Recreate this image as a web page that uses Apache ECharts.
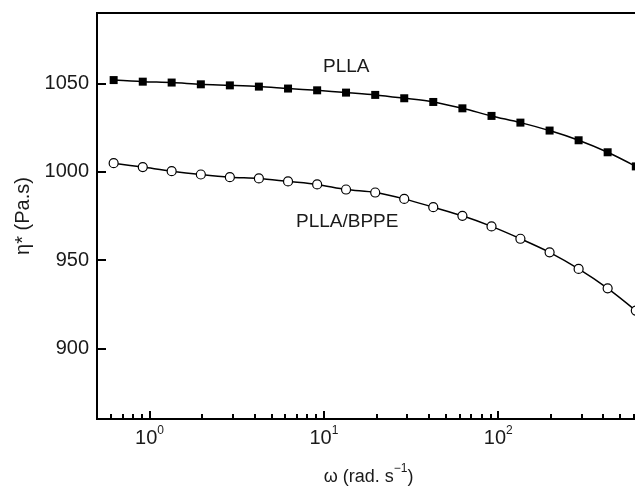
<!DOCTYPE html>
<html>
<head>
<meta charset="utf-8">
<script src="https://cdn.jsdelivr.net/npm/echarts@6/dist/echarts.min.js"></script>
<style>html,body{margin:0;padding:0;background:#fff;}#c{width:635px;height:486px;}</style>
</head>
<body>
<div id="c"></div>
<script>
const omega = [0.623, 0.915, 1.34, 1.97, 2.89, 4.24, 6.23, 9.15, 13.4, 19.7, 28.9, 42.4, 62.3, 91.5, 134, 197, 289, 424, 615];
const plla = [1052.0, 1051.1, 1050.6, 1049.6, 1049.0, 1048.3, 1047.2, 1046.2, 1044.9, 1043.6, 1041.7, 1039.6, 1036.0, 1031.7, 1027.9, 1023.4, 1017.9, 1011.1, 1003.1];
const pllaBppe = [1004.9, 1002.7, 1000.4, 998.5, 997.0, 996.3, 994.6, 992.9, 990.0, 988.3, 984.7, 980.0, 975.1, 969.1, 962.1, 954.4, 945.0, 934.0, 921.4];
const xMajorTicks = [1, 10, 100];
const xMinorTicks = [0.6, 0.7, 0.8, 0.9, 2, 3, 4, 5, 6, 7, 8, 9, 20, 30, 40, 50, 60, 70, 80, 90, 200, 300, 400, 500, 600];
const yTicks = [900, 950, 1000, 1050];
const seriesNames = ['PLLA', 'PLLA/BPPE'];

const FONT = 'Liberation Sans';
const TXT = '#1a1a1a';
const chart = echarts.init(document.getElementById('c'));
const xCommon = {
  type: 'log', logBase: 10, min: 0.5, max: 650, gridIndex: 0,
  splitLine: {show: false}
};
chart.setOption({
  animation: false,
  backgroundColor: '#fff',
  grid: {left: 97, top: 13, width: 543, height: 406, outerBoundsMode: 'none', containLabel: false, show: true, borderColor: '#000', borderWidth: 2, backgroundColor: 'transparent'},
  xAxis: [
    Object.assign({}, xCommon, {
      position: 'bottom',
      axisLine: {show: true, lineStyle: {color: '#000', width: 2}},
      axisTick: {show: true, inside: true, length: 8, lineStyle: {color: '#000', width: 2}, customValues: xMajorTicks},
      axisLabel: {
        show: true, margin: 8, color: TXT, fontFamily: FONT, fontSize: 20,
        customValues: xMajorTicks,
        formatter: v => '{m|10}{s|' + Math.round(Math.log10(v)) + '}',
        rich: {
          m: {fontSize: 20, fontFamily: FONT, color: TXT, lineHeight: 22},
          s: {fontSize: 12, fontFamily: FONT, color: TXT, lineHeight: 12, verticalAlign: 'bottom', padding: [0, 0, 12, 0]}
        }
      },
      name: '{m|ω (rad. s}{s|−1}{m|)}',
      nameLocation: 'middle', nameGap: 48,
      nameTextStyle: {
        rich: {
          m: {fontSize: 18, fontFamily: FONT, color: TXT, lineHeight: 20},
          s: {fontSize: 12, fontFamily: FONT, color: TXT, lineHeight: 12, verticalAlign: 'bottom', padding: [0, 0, 12, 0]}
        }
      }
    }),
    Object.assign({}, xCommon, {
      position: 'bottom',
      axisLine: {show: false},
      axisTick: {show: true, inside: true, length: 5, lineStyle: {color: '#000', width: 2}, customValues: xMinorTicks},
      axisLabel: {show: false}
    })
  ],
  yAxis: {
    type: 'value', min: 860, max: 1090,
    splitLine: {show: false},
    axisLine: {show: true, lineStyle: {color: '#000', width: 2}},
    axisTick: {show: true, inside: true, length: 9, lineStyle: {color: '#000', width: 2}, customValues: yTicks},
    axisLabel: {show: true, margin: 8, color: TXT, fontFamily: FONT, fontSize: 20, customValues: yTicks, formatter: v => String(v)},
    name: 'η* (Pa.s)', nameLocation: 'middle', nameGap: 64,
    nameTextStyle: {fontSize: 20, fontFamily: FONT, color: TXT}
  },
  series: [
    {
      name: seriesNames[0], type: 'line', xAxisIndex: 0, smooth: 0.3,
      data: omega.map((w, i) => [w, plla[i]]),
      symbol: 'rect', symbolSize: 8,
      itemStyle: {color: '#000'},
      lineStyle: {color: '#000', width: 1.5}
    },
    {
      name: seriesNames[1], type: 'line', xAxisIndex: 0, smooth: 0.3,
      data: omega.map((w, i) => [w, pllaBppe[i]]),
      symbol: 'circle', symbolSize: 9,
      itemStyle: {color: '#fff', borderColor: '#000', borderWidth: 1.2},
      lineStyle: {color: '#000', width: 1.5}
    }
  ],
  graphic: [
    {type: 'text', left: 323, top: 57, style: {text: seriesNames[0], fontSize: 19, fontFamily: FONT, fill: TXT}},
    {type: 'text', left: 296, top: 212, style: {text: seriesNames[1], fontSize: 19, fontFamily: FONT, fill: TXT}}
  ]
});
</script>
</body>
</html>
